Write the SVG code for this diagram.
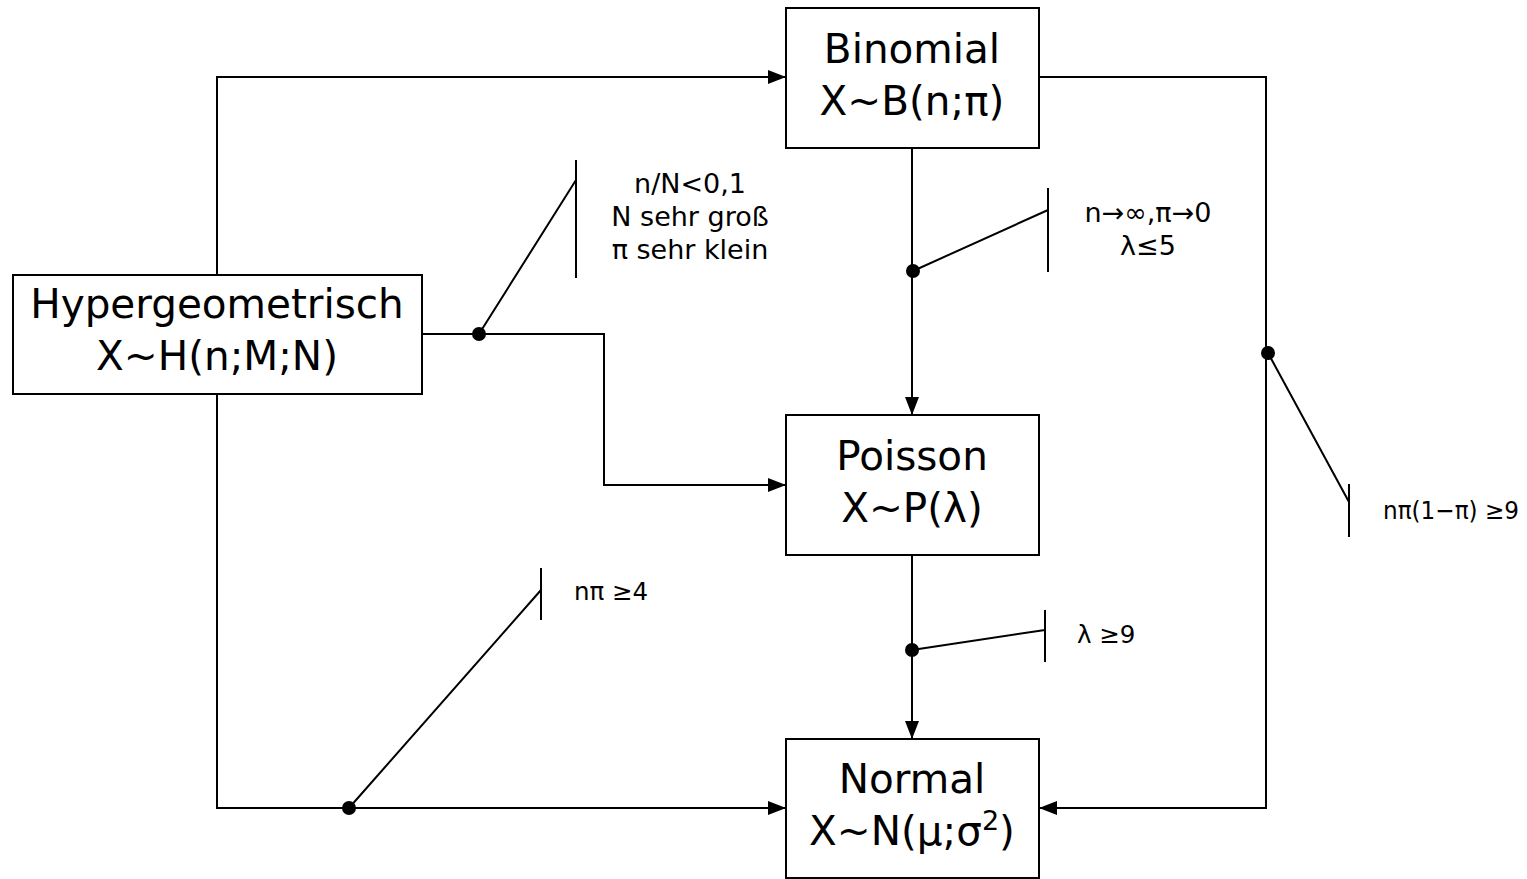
<svg xmlns="http://www.w3.org/2000/svg" width="1527" height="879" viewBox="0 0 1527 879">
<style>
.box{fill:#fff;stroke:#000;stroke-width:2}
.bt{font-family:"DejaVu Sans",sans-serif;font-size:40.5px;text-anchor:middle;fill:#000}
.lt{font-family:"DejaVu Sans",sans-serif;font-size:27px;fill:#000}
.ls{font-family:"DejaVu Sans",sans-serif;font-size:24.5px;fill:#000}
.ln{fill:none;stroke:#000;stroke-width:2}
</style>
<defs>
<marker id="ah" markerWidth="18" markerHeight="14" refX="18" refY="7" orient="auto" markerUnits="userSpaceOnUse">
<path d="M0,0 L18,7 L0,14 Z" fill="#000"/>
</marker>
</defs>
<rect width="1527" height="879" fill="#fff"/>
<g id="connectors">
<path class="ln" d="M217,275 V77 H786" marker-end="url(#ah)"/>
<path class="ln" d="M422,334 H604 V485 H786" marker-end="url(#ah)"/>
<path class="ln" d="M912,148 V415" marker-end="url(#ah)"/>
<path class="ln" d="M1039,77 H1266 V808 H1039" marker-end="url(#ah)"/>
<path class="ln" d="M912,555 V739" marker-end="url(#ah)"/>
<path class="ln" d="M217,394 V808 H786" marker-end="url(#ah)"/>
<circle cx="479" cy="334" r="7"/>
<path class="ln" d="M479,334 L576,180 M576,160 V278"/>
<circle cx="913" cy="271" r="7"/>
<path class="ln" d="M913,271 L1048,210 M1048,188 V272"/>
<circle cx="1268" cy="353" r="7"/>
<path class="ln" d="M1268,353 L1349,502 M1349,484 V537"/>
<circle cx="912" cy="650" r="7"/>
<path class="ln" d="M912,650 L1045,630 M1045,610 V662"/>
<circle cx="349" cy="808" r="7"/>
<path class="ln" d="M349,808 L541,590 M541,568 V620"/>
</g>
<g id="labels">
<text class="lt" text-anchor="middle" x="690" y="193">n/N&lt;0,1</text>
<text class="lt" text-anchor="middle" x="690" y="226">N sehr groß</text>
<text class="lt" text-anchor="middle" x="690" y="259">π sehr klein</text>
<text class="lt" text-anchor="middle" x="1148" y="222">n→∞,π→0</text>
<text class="lt" text-anchor="middle" x="1148" y="255">λ≤5</text>
<text class="ls" x="1383" y="519" textLength="136" lengthAdjust="spacingAndGlyphs">nπ(1−π) ≥9</text>
<text class="ls" x="574" y="600">nπ ≥4</text>
<text class="ls" x="1077" y="643">λ ≥9</text>
</g>
<g id="binomial">
<rect class="box" x="786" y="8" width="253" height="140"/>
<text class="bt" x="912" y="63">Binomial</text>
<text class="bt" x="912" y="115">X~B(n;π)</text>
</g>
<g id="hypergeometrisch">
<rect class="box" x="13" y="275" width="409" height="119"/>
<text class="bt" x="217" y="318">Hypergeometrisch</text>
<text class="bt" x="217" y="370">X~H(n;M;N)</text>
</g>
<g id="poisson">
<rect class="box" x="786" y="415" width="253" height="140"/>
<text class="bt" x="912" y="470">Poisson</text>
<text class="bt" x="912" y="522">X~P(λ)</text>
</g>
<g id="normal">
<rect class="box" x="786" y="739" width="253" height="139"/>
<text class="bt" x="912" y="793">Normal</text>
<text class="bt" x="912" y="845">X~N(μ;σ<tspan font-size="27" dy="-15">2</tspan><tspan dy="15">)</tspan></text>
</g>
</svg>
